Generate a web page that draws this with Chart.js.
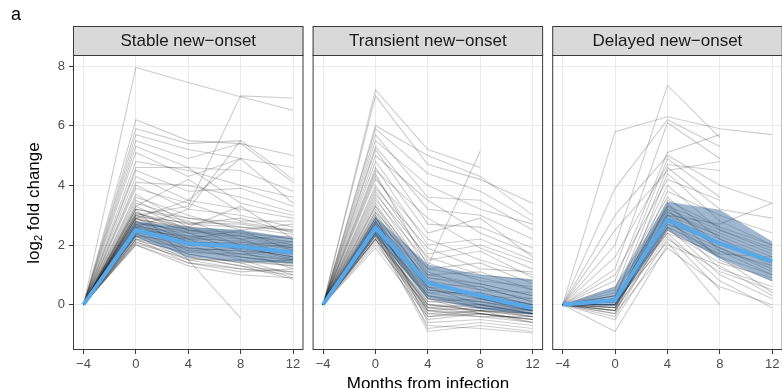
<html>

<head>
  <title>log2 fold change by months from infection</title>
  <style>
    body { margin: 0; background: #fff; overflow: hidden; }
    #wrap { position: relative; width: 782px; height: 388px; overflow: hidden; font-family: "Liberation Sans", Arial, sans-serif; }
    canvas { position: absolute; top: 0; }
    .txt { position: absolute; color: #000; white-space: nowrap; line-height: 1; }
    .txt sub { font-size: 11px; vertical-align: -3px; }
  </style>
</head>

<body>
<div id="wrap">
  <canvas id="c1" width="306" height="388" style="left:0px;"></canvas>
  <canvas id="c2" width="240" height="388" style="left:306px;"></canvas>
  <canvas id="c3" width="240" height="388" style="left:546px;"></canvas>
  <div class="txt" style="left:11px;top:5px;font-size:18px;">a</div>
  <div class="txt" style="left:34px;top:203px;font-size:17px;transform:translate(-50%,-50%) rotate(-90deg);">log<sub>2</sub> fold change</div>
  <div class="txt" style="left:428px;top:375px;font-size:17px;transform:translateX(-50%);">Months from infection</div>
</div>
<script src="https://cdn.jsdelivr.net/npm/chart.js"></script>
<script>
  // x 軸: 感染前後月份
  const months = [-4, 0, 4, 8, 12];
  const yTicks = [0, 2, 4, 6, 8];
  const panelTitles = ['Stable new\u2212onset', 'Transient new\u2212onset', 'Delayed new\u2212onset'];

  // Stable new-onset: 每位受試者一條線 (值依月份順序)
  const stableLines = [
    [0, 7.95, 7.45, 6.97, 6.52],
    [0, 3.0, 3.3, 7.0, 6.93],
    [0, 6.2, 5.5, 5.4, 5.0],
    [0, 5.9, 5.4, 5.5, 4.2],
    [0, 5.7, 5.2, 4.9, 4.6],
    [0, 5.5, 4.9, 5.4, 4.1],
    [0, 5.3, 4.6, 4.5, 3.8],
    [0, 5.1, 4.3, 4.9, 3.4],
    [0, 4.8, 4.5, 4.0, 3.6],
    [0, 4.6, 4.6, 3.4, 3.0],
    [0, 4.5, 3.8, 3.9, 3.3],
    [0, 4.3, 3.5, 3.2, 2.9],
    [0, 4.1, 4.0, 3.6, 3.1],
    [0, 4.0, 3.2, 3.0, 2.6],
    [0, 3.9, 3.4, 2.8, 2.8],
    [0, 3.7, 2.7, 2.9, 2.4],
    [0, 3.6, 3.0, 2.5, 2.7],
    [0, 3.5, 2.6, 3.3, 2.2],
    [0, 3.4, 2.9, 2.6, 2.5],
    [0, 3.3, 2.5, 2.4, 2.0],
    [0, 3.2, 1.5, -0.45, null],
    [0, 3.2, 2.8, 2.2, 2.3],
    [0, 3.1, 2.4, 2.3, 1.9],
    [0, 3.0, 2.6, 2.0, 2.1],
    [0, 3.0, 2.2, 2.5, 1.8],
    [0, 2.9, 2.3, 1.9, 2.0],
    [0, 2.9, 2.5, 2.2, 1.6],
    [0, 2.8, 2.0, 2.1, 1.9],
    [0, 2.8, 2.4, 1.8, 1.7],
    [0, 2.7, 2.1, 2.0, 1.5],
    [0, 2.7, 1.9, 1.7, 1.8],
    [0, 2.6, 2.2, 1.6, 1.4],
    [0, 2.6, 1.8, 1.9, 1.6],
    [0, 2.5, 2.0, 1.5, 1.3],
    [0, 2.5, 1.7, 1.4, 1.5],
    [0, 2.4, 1.9, 1.8, 1.2],
    [0, 2.4, 1.6, 1.3, 1.1],
    [0, 2.3, 1.8, 1.6, 1.4],
    [0, 2.3, 1.5, 1.2, 1.0],
    [0, 2.2, 1.7, 1.4, 0.9],
    [0, 2.2, 1.4, 1.1, 1.2],
    [0, 2.1, 1.6, 1.3, 0.85],
    [0, 2.1, 1.5, 1.5, 1.0],
    [0, 2.0, 1.4, 1.2, 1.1],
    [0, 2.0, 1.3, 1.0, 0.9],
    [0, 2.6, 3.2, 5.5, null],
    [0, 2.9, 3.5, 4.9, null],
    [0, 3.3, 4.2, 3.1, null],
    [0, 2.35, 2.0, 1.9, 1.6],
    [0, 2.45, 2.1, 2.05, 1.75],
    [0, 2.55, 2.25, 2.1, 1.85],
    [0, 2.65, 2.3, 2.2, 1.95],
    [0, 2.75, 2.45, 2.35, 2.1],
    [0, 2.85, 2.6, 2.45, 2.2],
    [0, 2.15, 1.75, 1.7, 1.5],
    [0, 2.05, 1.55, 1.45, 1.3],
    [0, 3.05, 2.7, 2.6, 2.35],
    [0, 2.95, 2.75, 2.7, 2.45],
    [0, 2.5, 2.3, 2.3, 2.1],
    [0, 2.3, 2.1, 1.95, 1.7],
    [0, 2.2, 1.9, 1.8, 1.5],
    [0, 2.4, 2.2, 2.15, 1.9],
    [0, 2.6, 2.4, 2.0, 1.8],
    [0, 2.8, 2.2, 1.9, 1.6],
    [0, 3.1, 2.5, 2.3, 2.0],
    [0, 2.7, 2.55, 2.4, 2.2],
    [0, 2.35, 1.85, 1.6, 1.35],
    [0, 2.9, 2.1, 1.7, 1.45],
    [0, 3.2, 2.9, 2.75, 2.5],
    [0, 2.55, 2.15, 1.85, 1.55]
  ];
  const stableMean = [0, 2.5, 2.05, 1.95, 1.75];
  const stableLow = [0, 2.25, 1.6, 1.45, 1.38];
  const stableHigh = [0, 2.78, 2.6, 2.5, 2.25];

  // Transient new-onset
  const transientLines = [
    [0, 7.2, 5.2, 4.6, null],
    [0, 7.0, 4.7, 4.2, 3.4],
    [0, 6.0, 5.0, 4.3, 3.0],
    [0, 5.9, 4.4, 3.8, 2.8],
    [0, 5.7, 3.6, 3.5, 2.5],
    [0, 5.5, 4.0, 3.2, 2.7],
    [0, 5.3, 3.2, 3.0, 2.2],
    [0, 5.2, 2.7, 2.6, 1.9],
    [0, 5.0, 3.5, 2.4, 1.7],
    [0, 4.8, 2.4, 2.9, 1.6],
    [0, 4.4, 1.3, 5.15, null],
    [0, 4.6, 2.0, 2.2, 1.5],
    [0, 4.5, 2.9, 1.9, 1.2],
    [0, 4.3, 1.7, 2.0, 1.4],
    [0, 4.2, 2.2, 1.5, 1.0],
    [0, 4.0, 1.5, 1.8, 0.9],
    [0, 3.9, 1.9, 1.2, 1.1],
    [0, 3.8, 1.2, 1.4, 0.7],
    [0, 3.7, 1.6, 1.0, 0.8],
    [0, 3.6, 1.0, 1.1, 0.5],
    [0, 3.5, 1.4, 0.8, 0.6],
    [0, 3.4, 0.9, 0.7, 0.3],
    [0, 3.3, 1.1, 0.5, 0.4],
    [0, 3.2, 0.7, 0.6, 0.1],
    [0, 3.1, 0.5, 0.3, 0.2],
    [0, 3.0, 0.8, 0.2, -0.1],
    [0, 2.9, 0.4, 0.4, 0.0],
    [0, 2.9, 0.6, 0.0, -0.2],
    [0, 2.8, 0.2, 0.1, -0.1],
    [0, 2.8, 0.3, -0.1, -0.3],
    [0, 2.7, 0.1, 0.2, -0.2],
    [0, 2.7, 0.0, -0.2, -0.4],
    [0, 2.6, -0.1, 0.0, -0.3],
    [0, 2.6, 0.2, -0.3, -0.5],
    [0, 2.5, -0.2, -0.1, -0.4],
    [0, 2.5, -0.3, -0.2, -0.6],
    [0, 2.4, -0.1, -0.3, -0.5],
    [0, 2.4, -0.4, -0.2, -0.3],
    [0, 2.3, -0.2, -0.4, -0.6],
    [0, 2.3, -0.5, -0.3, -0.5],
    [0, 2.2, 0.0, -0.1, -0.2],
    [0, 2.1, -0.3, -0.4, -0.4],
    [0, 2.0, -0.1, -0.2, -0.3],
    [0, 1.9, -0.4, -0.3, -0.5],
    [0, 2.45, 0.5, 0.3, 0.0],
    [0, 2.55, 0.6, 0.2, -0.1],
    [0, 2.65, 0.8, 0.5, 0.2],
    [0, 2.35, 0.3, 0.1, -0.2],
    [0, 2.75, 0.9, 0.6, 0.1],
    [0, 2.2, 0.1, 0.0, -0.3],
    [0, 2.4, -0.9, -0.7, -0.9],
    [0, 2.6, -0.8, -0.6, -0.8],
    [0, 2.2, -0.7, -0.8, -0.95],
    [0, 3.0, -0.6, -0.5, -0.7],
    [0, 2.5, 0.4, 0.1, -0.2],
    [0, 2.7, 0.6, 0.4, 0.0],
    [0, 2.9, 1.0, 0.7, 0.3],
    [0, 2.3, 0.0, -0.2, -0.4],
    [0, 2.6, 0.3, 0.0, -0.3],
    [0, 3.1, 1.2, 0.9, 0.5],
    [0, 2.8, 0.5, 0.2, -0.2],
    [0, 2.4, 0.2, -0.1, -0.3],
    [0, 3.3, 0.7, 0.3, 0.0],
    [0, 2.2, -0.2, -0.3, -0.6]
  ];
  const transientMean = [0, 2.57, 0.73, 0.3, -0.12];
  const transientLow = [0, 2.3, 0.2, -0.15, -0.35];
  const transientHigh = [0, 2.95, 1.35, 1.0, 0.85];

  // Delayed new-onset
  const delayedLines = [
    [0, 5.8, 6.3, 5.9, 5.7],
    [0, 2.0, 7.35, 5.6, null],
    [0, 3.9, 6.2, 5.3, null],
    [0, 1.2, 6.1, 4.9, null],
    [0, 0.8, 5.1, 5.7, null],
    [0, 3.0, 5.0, 4.0, 3.4],
    [0, 0.5, 4.9, 3.6, null],
    [0, 1.6, 4.7, 4.5, null],
    [0, 0.2, 4.6, 3.2, 2.9],
    [0, 2.5, 4.5, 4.8, null],
    [0, -0.2, 4.4, 2.8, 2.0],
    [0, 1.0, 4.2, 3.5, null],
    [0, 0.3, 4.0, 2.5, 1.8],
    [0, -0.1, 3.8, 3.0, 2.4],
    [0, 0.6, 3.6, 2.2, 1.3],
    [0, 0.0, 3.5, 2.6, null],
    [0, -0.3, 3.4, 1.8, 1.0],
    [0, 0.1, 3.3, 2.0, 1.4],
    [0, 0.4, 3.2, 1.5, 0.8],
    [0, -0.2, 3.1, 2.3, null],
    [0, 0.0, 3.0, 1.9, 1.1],
    [0, 0.2, 2.9, 1.2, 0.6],
    [0, -0.1, 2.8, 1.6, 0.4],
    [0, 0.1, 2.7, 2.1, null],
    [0, -0.4, 2.6, 1.0, 0.2],
    [0, 0.0, 2.5, 1.4, 0.9],
    [0, 0.3, 2.4, 0.8, -0.1],
    [0, -0.2, 2.3, 0.5, null],
    [0, -0.5, 2.2, 1.1, 0.5],
    [0, 0.1, 2.1, 0.0, null],
    [0, -0.9, 2.0, 1.3, 0.3],
    [0, -0.3, 1.9, 0.6, 0.0],
    [0, 0.2, 2.6, 1.7, 1.6],
    [0, -0.1, 3.0, 2.7, 3.4],
    [0, 0.1, 2.9, 2.2, 1.5],
    [0, 0.2, 3.1, 2.4, 1.7],
    [0, -0.1, 2.7, 1.9, 1.2],
    [0, 0.0, 2.8, 2.0, null],
    [0, 0.15, 3.2, 2.5, 1.9],
    [0, 0.0, 2.6, 1.8, 1.3],
    [0, 0.1, 3.0, 2.3, 1.6],
    [0, -0.2, 2.5, 1.6, 1.0],
    [0, 0.3, 3.3, 2.6, 2.0],
    [0, 0.0, 2.4, 1.7, null]
  ];
  const delayedMean = [0, 0.15, 2.85, 2.05, 1.45];
  const delayedLow = [0, -0.05, 2.5, 1.55, 0.78];
  const delayedHigh = [0, 0.6, 3.45, 3.18, 2.12];

  Chart.defaults.font.family = '"Liberation Sans", Arial, sans-serif';

  function toPoints(values) {
    return months.map((m, i) => ({ x: m, y: values[i] }));
  }

  // 分面標題列與外框
  const facetDecor = {
    id: 'facetDecor',
    afterDraw(chart, args, opts) {
      const { ctx, chartArea: a } = chart;
      const w = a.right - a.left;
      ctx.save();
      ctx.fillStyle = '#d9d9d9';
      ctx.fillRect(a.left, 26, w, a.top - 26);
      ctx.strokeStyle = '#3a3a3a';
      ctx.lineWidth = 1;
      ctx.strokeRect(a.left + 0.5, 26.5, w - 1, a.top - 26);
      ctx.strokeRect(a.left + 0.5, a.top + 0.5, w - 1, a.bottom - a.top - 1);
      ctx.fillStyle = '#1a1a1a';
      ctx.font = '17px "Liberation Sans", Arial, sans-serif';
      ctx.textAlign = 'center';
      ctx.textBaseline = 'middle';
      ctx.fillText(opts.title, a.left + w / 2, (26 + a.top) / 2 + 1);
      ctx.restore();
    }
  };

  function makePanel(canvasId, title, lines, mean, low, high, first, padLeft, padRight) {
    const datasets = [
      { data: toPoints(mean), borderColor: 'rgb(86, 168, 232)', borderWidth: 4, order: 0 },
      { data: toPoints(low), borderWidth: 0, borderColor: 'rgba(0,0,0,0)', order: 1 },
      { data: toPoints(high), borderWidth: 0, borderColor: 'rgba(0,0,0,0)', order: 1,
        fill: '-1', backgroundColor: 'rgba(45, 95, 150, 0.45)' }
    ];
    lines.forEach(v => {
      datasets.push({ data: toPoints(v), borderColor: 'rgba(0, 0, 0, 0.2)', borderWidth: 1.1, order: 2 });
    });

    return new Chart(document.getElementById(canvasId), {
      type: 'line',
      data: { datasets: datasets },
      options: {
        responsive: false,
        animation: false,
        layout: { padding: { left: padLeft, right: padRight, top: 55, bottom: 0 } },
        elements: { point: { radius: 0 }, line: { tension: 0 } },
        plugins: {
          legend: { display: false },
          tooltip: { enabled: false },
          facetDecor: { title: title }
        },
        scales: {
          x: {
            type: 'linear',
            min: -4.8,
            max: 12.8,
            afterBuildTicks: s => { s.ticks = months.map(v => ({ value: v })); },
            afterFit: s => { s.height = 38; },
            border: { display: false },
            grid: { color: '#ebebeb', lineWidth: 1, tickColor: '#3a3a3a', tickLength: 4 },
            ticks: {
              color: '#4d4d4d',
              font: { size: 13 },
              padding: 3,
              maxRotation: 0,
              callback: v => String(v).replace('-', '\u2212')
            }
          },
          y: {
            min: -1.52,
            max: 8.37,
            afterBuildTicks: s => { s.ticks = yTicks.map(v => ({ value: v })); },
            afterFit: s => { s.width = first ? 73 : 0; },
            border: { display: false },
            grid: { color: '#ebebeb', lineWidth: 1, tickColor: '#3a3a3a', tickLength: 4, drawTicks: first },
            ticks: {
              display: first,
              color: '#4d4d4d',
              font: { size: 13 },
              padding: 4
            }
          }
        }
      },
      plugins: [facetDecor]
    });
  }

  makePanel('c1', panelTitles[0], stableLines, stableMean, stableLow, stableHigh, true, 0, 2.5);
  makePanel('c2', panelTitles[1], transientLines, transientMean, transientLow, transientHigh, false, 6.6, 2.9);
  makePanel('c3', panelTitles[2], delayedLines, delayedMean, delayedLow, delayedHigh, false, 6.2, 3.3);
</script>
</body>

</html>
